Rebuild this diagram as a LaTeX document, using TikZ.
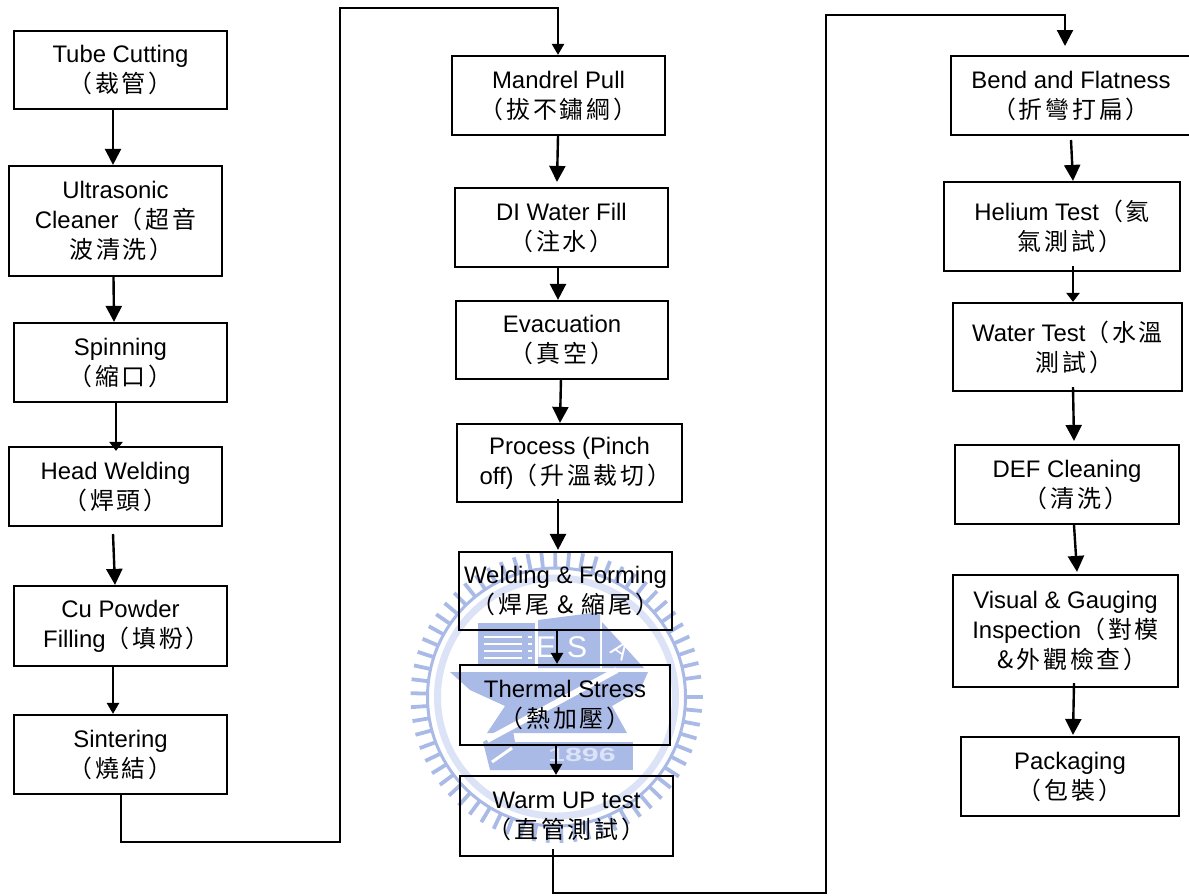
\documentclass[tikz,border=0pt]{standalone}
\usepackage{fontspec}
\setmainfont{Liberation Sans}
\newfontfamily\cjk[LetterSpace=12]{Noto Sans CJK TC}
\newcommand{\zh}[1]{{\cjk #1}}
\definecolor{wm}{HTML}{AABAE6}
\definecolor{wmpale}{HTML}{DCE3F6}
\usetikzlibrary{arrows.meta,calc}
\tikzset{
  stepbox/.style={draw=black,line width=2.2pt,rectangle,align=center,inner sep=0pt,
    font=\fontsize{23.9pt}{30pt}\selectfont},
  flow/.style={draw=black,line width=2.4pt},
  tipbig/.style={flow,-{Triangle[length=16pt,width=16pt]}},
  tipmid/.style={flow,-{Triangle[length=11pt,width=12pt]}},
  tipsmall/.style={flow,-{Triangle[length=9pt,width=13pt]}},
  route/.style={draw=black,line width=2.2pt,line join=miter},
  wmletter/.style={text=white,font=\fontsize{30pt}{30pt}\selectfont,inner sep=0pt}
}
\newcommand{\bx}[6]{\node[stepbox,minimum width={(#4-#2)*1pt},minimum height={(#5-#3)*1pt}] (#1) at ({(#2+#4)/2},{(#3+#5)/2}) {#6};}
\begin{document}
\begin{tikzpicture}[x=1pt,y=-1pt]
\useasboundingbox (0,0) rectangle (1189,895);
\clip (0,0) rectangle (1189,895);
% watermark
\begin{scope}[shift={(556.5,697)}]
  \foreach \a in {0,5.5,...,355}{\draw[wm,line width=3.8pt] (\a:129) -- (\a:146);}
  \draw[wm,line width=3pt] (0,0) circle[radius=129];
  \draw[wmpale,line width=7pt] (0,0) circle[radius=119];
\end{scope}
% watermark: book, blocks, anvil, banner
\fill[wm] (478,623) rectangle (535,665);
\foreach \yy in {630,637,644,651,658}{\draw[white,line width=2.4pt] (484,\yy) -- (522,\yy);\draw[white,line width=2pt] (528,\yy) -- (532,\yy);}
\fill[wm] (538,620) -- (600,612) -- (600,668) -- (538,668) -- cycle;
\fill[wm] (602,622) -- (644,668) -- (602,668) -- cycle;
\fill[wm] (450,672) -- (648,672) -- (640,690) -- (612,706) -- (627,733) -- (487,733) -- (505,706) -- (470,690) -- cycle;
\fill[wm] (483,742) -- (512,725) -- (515,742) -- (515,770) -- (490,770) -- cycle;
\draw[white,line width=6pt] (487,740) -- (617,670);
\draw[white,line width=3pt] (492,762) -- (512,748);
\fill[wm] (515,742) rectangle (633,770);
\node[wmletter] (wmE) at (546,647) {E};
\node[wmletter] (wmS) at (577,647) {S};
\node[wmletter,rotate=-35,font=\fontsize{24pt}{24pt}\selectfont] (wmA) at (621,650) {A};
\node[wmletter,font=\bfseries\fontsize{19pt}{19pt}\selectfont,text=wmpale] (wmY) at (582,755) {\scalebox{1.6}[1]{1896}};
% boxes column 1
\bx{tube}{14}{31}{227}{109}{Tube Cutting\\\zh{（裁管）}}
\bx{ultra}{9}{166}{222}{276}{Ultrasonic\\Cleaner\zh{（超音}\\\hspace*{12pt}\zh{波清洗）}}
\bx{spin}{14}{323}{227}{402}{Spinning\\\zh{（縮口）}}
\bx{head}{9}{447}{222}{526}{Head Welding\\\zh{（焊頭）}}
\bx{powder}{14}{586}{227}{666}{Cu Powder\\\hspace*{12pt}Filling\zh{（填粉）}}
\bx{sinter}{14}{715}{227}{794}{Sintering\\\zh{（燒結）}}
% column 2
\bx{mandrel}{452}{56}{665}{135}{Mandrel Pull\\\zh{（拔不鏽綱）}}
\bx{di}{455}{188}{668}{267}{DI Water Fill\\\zh{（注水）}}
\bx{evac}{456}{301}{668}{379}{Evacuation\\\zh{（真空）}}
\bx{pinch}{457}{424}{682}{502}{Process (Pinch\\\hspace*{12pt}off)\zh{（升溫裁切）}}
\bx{weld}{459}{552}{672}{630}{Welding \& Forming\\\zh{（焊尾\ \&\ 縮尾）}}
\bx{thermal}{460}{665}{670}{745}{Thermal Stress\\\zh{（熱加壓）}}
\bx{warm}{460}{776}{673}{856}{Warm UP test\\\zh{（直管測試）}}
% column 3
\bx{bend}{951}{56}{1191}{135}{Bend and Flatness\\\zh{（折彎打扁）}}
\bx{helium}{944}{182}{1180}{271}{Helium Test\zh{（氦}\\\hspace*{16pt}\zh{氣測試）}}
\bx{water}{953}{303}{1182}{391}{Water Test\zh{（水溫}\\\hspace*{14pt}\zh{測試）}}
\bx{def}{955}{445}{1179}{524}{DEF Cleaning\\\hspace*{18pt}\zh{（清洗）}}
\bx{visual}{953}{575}{1178}{687}{Visual \& Gauging\\Inspection\zh{（對模}\\\hspace*{14pt}\zh{\&外觀檢查）}}
\bx{pack}{961}{737}{1179}{816}{Packaging\\\zh{（包裝）}}
% routing coordinates
\coordinate (r1a) at (121,842);
\coordinate (r1b) at (340,842);
\coordinate (r1c) at (340,8);
\coordinate (r1d) at (558,8);
\coordinate (r2a) at (553,893);
\coordinate (r2b) at (826,893);
\coordinate (r2c) at (826,15);
\coordinate (r2d) at (1065,15);
\coordinate (headout) at (113,534);
\coordinate (bendout) at (1071,140);
\coordinate (bendtip) at (1065,46);
% connectors column 1
\draw[tipbig] ([xshift=-7.5pt]tube.south) -- ([xshift=-2.5pt]ultra.north);
\draw[tipbig] ([xshift=-2pt]ultra.south) -- ([xshift=-6.5pt]spin.north);
\draw[tipsmall] ([xshift=-4.5pt]spin.south) -- ([xshift=0.5pt,yshift=-5pt]head.north);
\draw[tipbig] (headout) -- ([xshift=-5.5pt]powder.north);
\draw[tipmid] ([xshift=-7.5pt]powder.south) -- ([xshift=-7.5pt]sinter.north);
\draw[route,-{Triangle[length=11pt,width=12pt]}] (sinter.south -| r1a) -- (r1a) -- (r1b) -- (r1c) -- (r1d) -- (mandrel.north -| r1d);
% column 2
\draw[tipbig] ([xshift=-0.5pt]mandrel.south) -- ([xshift=-4.5pt,yshift=5pt]di.north);
\draw[tipbig] ([xshift=-3.5pt]di.south) -- ([xshift=-4pt]evac.north);
\draw[tipbig] ([xshift=-1pt,yshift=2pt]evac.south) -- ([xshift=-9.5pt]pinch.north);
\draw[tipbig] ([xshift=-11.5pt,yshift=4pt]pinch.south) -- ([xshift=-7.5pt,yshift=1pt]weld.north);
\draw[tipmid] ([xshift=-8.5pt]weld.south) -- ([xshift=-8pt]thermal.north);
\draw[tipmid] ([xshift=-9pt,yshift=2pt]thermal.south) -- ([xshift=-10.5pt]warm.north);
\draw[route,-{Triangle[length=16pt,width=16pt]}] ([yshift=8pt]warm.south -| r2a) -- (r2a) -- (r2b) -- (r2c) -- (r2d) -- (bendtip);
% column 3
\draw[tipbig] (bendout) -- ([xshift=11pt]helium.north);
\draw[tipsmall] ([xshift=11pt,yshift=6pt]helium.south) -- ([xshift=5.5pt]water.north);
\draw[tipbig] ([xshift=5.5pt,yshift=5pt]water.south) -- ([xshift=7pt,yshift=3pt]def.north);
\draw[tipbig] ([xshift=7pt]def.south) -- ([xshift=11.5pt,yshift=2pt]visual.north);
\draw[tipbig] ([xshift=8.5pt,yshift=5pt]visual.south) -- ([xshift=3pt,yshift=1pt]pack.north);
\end{tikzpicture}
\end{document}
